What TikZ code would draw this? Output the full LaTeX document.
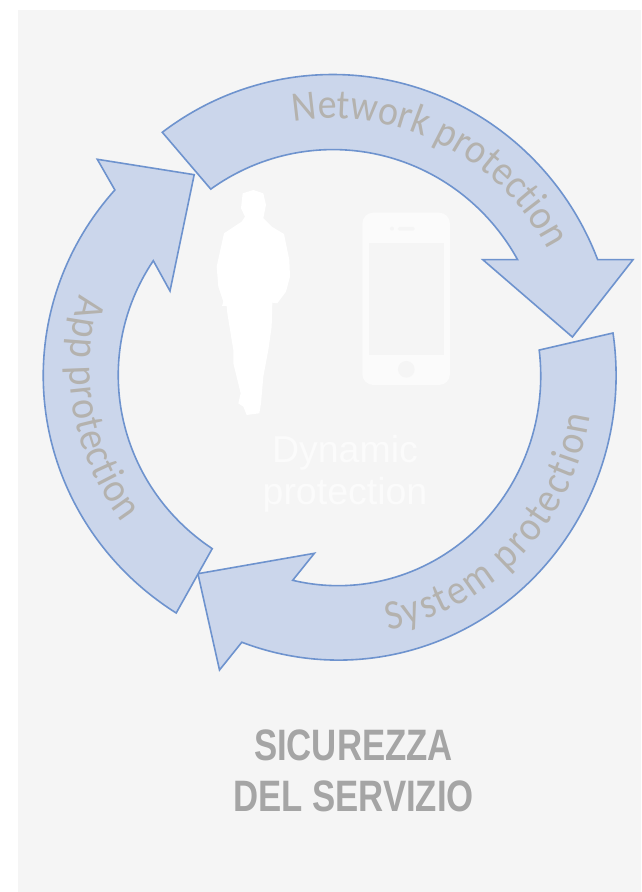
\documentclass[tikz,border=0pt]{standalone}
\usepackage{fontspec}
\usetikzlibrary{decorations.text}
\newfontfamily\ringfont[FakeStretch=0.9]{Carlito}
\newfontfamily\plainfont{Liberation Sans}
\definecolor{panelgray}{HTML}{F5F5F5}
\definecolor{ringblue}{HTML}{CBD6EB}
\definecolor{ringline}{HTML}{6E93CE}
\definecolor{ringtext}{HTML}{B4B2AE}
\definecolor{phonewhite}{HTML}{FBFBFB}
\definecolor{titlegray}{HTML}{A5A5A5}
\tikzset{
  ringarrow/.style={draw=ringline, fill=ringblue, line width=1.6pt, line join=miter},
  ringlabel/.style={decorate, decoration={text along path, text align=fit to path,
      text={|\ringfont\fontsize{42}{42}\selectfont\color{ringtext}|#1}}}
}
\begin{document}
\begin{tikzpicture}[x=1pt, y=1pt]
            \useasboundingbox (0,0) rectangle (641,892);
            % The gray panel behind everything
            \fill [panelgray] (18,0) rectangle (641,882);

            % The three ring arrows
            \draw [ringarrow] (162.3,759.7)
              arc [start angle=126.8, end angle=21.2, x radius=284.3, y radius=290]
              -- (633,632.3) -- (572.4,555) -- (482.8,632.3) -- (517.6,632.3)
              arc [start angle=29.2, end angle=125.3, x radius=211.5, y radius=215] -- cycle;
            \draw [ringarrow] (613,559)
              arc [start angle=8.5, end angle=-110.4, x radius=277.5, y radius=285]
              -- (219.5,222) -- (197.9,318.3) -- (314.4,338.7) -- (292.7,311.7)
              arc [start angle=-103, end angle=7.1, x radius=202.5, y radius=209.7] -- cycle;
            \draw [ringarrow] (176.2,279)
              arc [start angle=237, end angle=139, x radius=292, y radius=283]
              -- (97.3,732.7) -- (194.2,717.3) -- (170,601) -- (153.3,631.3)
              arc [start angle=146.9, end angle=235.6, x radius=216, y radius=210] -- cycle;

            % Labels that follow the arrows
            \path [ringlabel={Network protection}] (293.8,770.3)
              arc [start angle=99.3, end angle=28, x radius=243, y radius=248];
            \path [ringlabel={System protection}] (388,262)
              arc [start angle=-79, end angle=-9, x radius=254, y radius=259];
            \path [ringlabel={App protection}] (80,597)
              arc [start angle=164, end angle=216.4, x radius=270, y radius=262];

            % The man, traced in the coordinates of a 3x crop
            \begin{scope} [shift={(200pt,712pt)}, x=0.3333pt, y=-0.3333pt]
              \fill [white] (160,30) -- (190,40) -- (198,75) -- (190,115) -- (215,140)
                -- (252,162) -- (268,240) -- (270,290) -- (258,335) -- (232,370)
                -- (217,368) -- (215,440) -- (205,510) -- (190,590) -- (183,670)
                -- (178,700) -- (140,705) -- (130,680) -- (115,670) -- (122,640)
                -- (100,550) -- (100,510) -- (82,400) -- (80,378) -- (66,378)
                -- (70,365) -- (55,320) -- (50,260) -- (72,160) -- (125,125)
                -- (135,110) -- (123,85) -- (128,40) -- cycle;
              % The phone
              \fill [phonewhite, rounded corners=11pt] (487,98) rectangle (750,615);
              \fill [panelgray] (507,188) rectangle (732,524);
              \fill [panelgray] (619,568) circle (25);
              \fill [panelgray] (576,146) circle (6);
              \fill [panelgray, rounded corners=1.5pt] (594,141) rectangle (644,152);
            \end{scope}

            % Texts in the middle and at the bottom
            \node [text=phonewhite, align=center, font=\plainfont\fontsize{37.5}{42.5}\selectfont]
              (dynamic) at (345,418) {Dynamic\\protection};
            \node [text=titlegray, align=center, xscale=0.79, transform shape,
              font=\plainfont\bfseries\fontsize{44}{51}\selectfont]
              (title) at (353.5,121) {SICUREZZA\\DEL SERVIZIO};
\end{tikzpicture}
\end{document}
